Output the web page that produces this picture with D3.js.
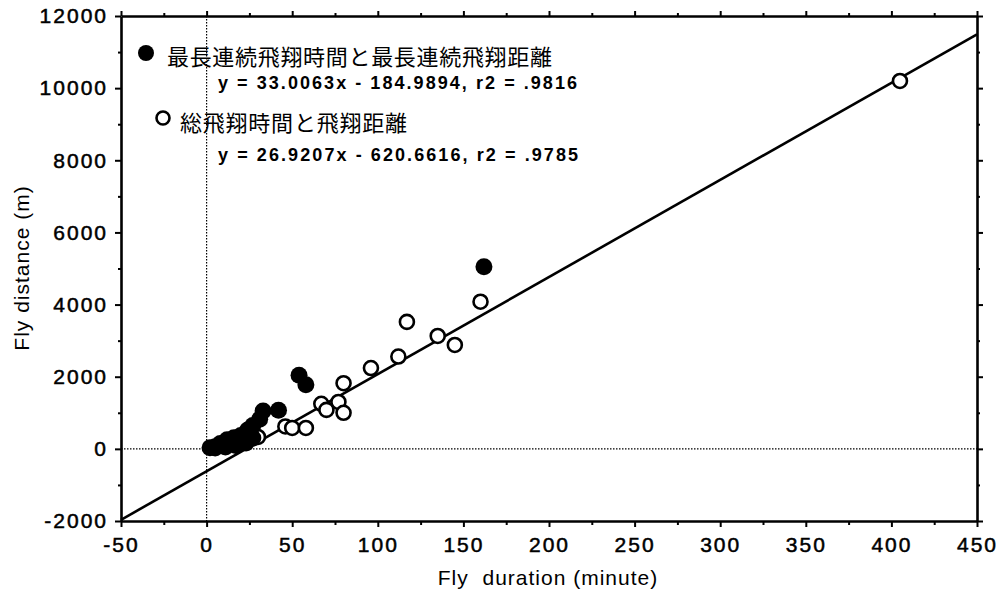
<!DOCTYPE html>
<html><head><meta charset="utf-8">
<script src="https://cdn.jsdelivr.net/npm/d3@7"></script>
<style>
body{margin:0;background:#fff;}
svg{display:block;}
text{fill:#000;}
</style></head>
<body><svg id="c" width="1000" height="602"></svg>
<script>
// Data
const xTicks = [-50,0,50,100,150,200,250,300,350,400,450];
const yTicks = [-2000,0,2000,4000,6000,8000,10000,12000];
const xMinor = [-25,25,75,125,175,225,275,325,375,425];
const yMinor = [-1000,1000,3000,5000,7000,9000,11000];
// longest continuous flight duration (min) vs distance (m)
const filledX = [2,5,8,12,16,20,24,27,31,33,42,54,58,162,11,17,23,27];
const filledY = [30,60,150,250,310,370,520,650,820,1050,1070,2040,1780,5050,50,90,160,300];
// total flight duration vs distance
const openX = [5,10,15,20,25,30,46,50,58,67,70,77,80,80,96,112,117,135,145,160,405];
const openY = [20,80,200,260,300,330,620,580,580,1250,1080,1300,1000,1820,2240,2560,3520,3130,2880,4080,10200];
const fitSlope = 26.9207, fitIntercept = -620.6616;
const legendLabels = ["最長連続飛翔時間と最長連続飛翔距離","総飛翔時間と飛翔距離"];
const legendEqs = ["y = 33.0063x - 184.9894, r2 = .9816","y = 26.9207x - 620.6616, r2 = .9785"];
const xTitle = "Fly\u00a0 duration (minute)";
const yTitle = "Fly distance (m)";

const svg = d3.select("#c");
const x = d3.scaleLinear().domain([-50,450]).range([121,977]);
const y = d3.scaleLinear().domain([-2000,12000]).range([521,16]);
const font = "'Liberation Sans', Arial, sans-serif";
const fmt = d => String(d);

// dotted zero lines
svg.append("line").attr("x1",x(0)).attr("x2",x(0)).attr("y1",y(12000)).attr("y2",y(-2000))
  .attr("stroke","#000").attr("stroke-width",1.2).attr("stroke-dasharray","1.5,1.5");
svg.append("line").attr("x1",x(-50)).attr("x2",x(450)).attr("y1",y(0)).attr("y2",y(0))
  .attr("stroke","#000").attr("stroke-width",1.2).attr("stroke-dasharray","1.5,1.5");

// regression line
svg.append("line")
  .attr("x1",x(-50)).attr("y1",y(fitSlope*-50+fitIntercept))
  .attr("x2",x(450)).attr("y2",y(fitSlope*450+fitIntercept))
  .attr("stroke","#000").attr("stroke-width",2.6);

// axes
function styleAxis(g){
  g.select(".domain").attr("stroke","#000").attr("stroke-width",2.6);
  g.selectAll(".tick line").attr("stroke","#000").attr("stroke-width",2);
  g.selectAll(".tick text").attr("font-family",font).attr("font-size","21px").attr("letter-spacing","2px")
    .attr("stroke","#000").attr("stroke-width",0.5);
}
const gB = svg.append("g").attr("transform",`translate(0,${y(-2000)})`)
  .call(d3.axisBottom(x).tickValues(xTicks).tickSize(6).tickSizeOuter(0).tickPadding(10).tickFormat(fmt));
styleAxis(gB);
gB.selectAll(".tick text").attr("dy","0.71em");
svg.append("g").attr("transform",`translate(0,${y(-2000)})`)
  .call(d3.axisBottom(x).tickValues(xMinor).tickSize(4).tickFormat("")).call(styleAxis).select(".domain").remove();
const gT = svg.append("g").attr("transform",`translate(0,${y(12000)})`)
  .call(d3.axisTop(x).tickValues(xTicks).tickSize(5).tickSizeOuter(0).tickFormat(""));
styleAxis(gT);
svg.append("g").attr("transform",`translate(0,${y(12000)})`)
  .call(d3.axisTop(x).tickValues(xMinor).tickSize(3).tickFormat("")).call(styleAxis).select(".domain").remove();
const gL = svg.append("g").attr("transform",`translate(${x(-50)},0)`)
  .call(d3.axisLeft(y).tickValues(yTicks).tickSize(6).tickSizeOuter(0).tickPadding(7).tickFormat(fmt));
styleAxis(gL);
svg.append("g").attr("transform",`translate(${x(-50)},0)`)
  .call(d3.axisLeft(y).tickValues(yMinor).tickSize(3).tickFormat("")).call(styleAxis).select(".domain").remove();
const gR = svg.append("g").attr("transform",`translate(${x(450)},0)`)
  .call(d3.axisRight(y).tickValues(yTicks).tickSize(6).tickSizeOuter(0).tickFormat(""));
styleAxis(gR);
svg.append("g").attr("transform",`translate(${x(450)},0)`)
  .call(d3.axisRight(y).tickValues(yMinor).tickSize(3).tickFormat("")).call(styleAxis).select(".domain").remove();

// points
const openData = openX.map((v,i)=>[v,openY[i]]);
const filledData = filledX.map((v,i)=>[v,filledY[i]]);
svg.append("g").selectAll("circle").data(openData).join("circle")
  .attr("cx",d=>x(d[0])).attr("cy",d=>y(d[1])).attr("r",7)
  .attr("fill","#fff").attr("stroke","#000").attr("stroke-width",2.6);
svg.append("g").selectAll("circle").data(filledData).join("circle")
  .attr("cx",d=>x(d[0])).attr("cy",d=>y(d[1])).attr("r",8.5)
  .attr("fill","#000");

// legend
svg.append("circle").attr("cx",146).attr("cy",53).attr("r",8).attr("fill","#000");
svg.append("circle").attr("cx",163).attr("cy",118).attr("r",6.5).attr("fill","#fff").attr("stroke","#000").attr("stroke-width",2.6);
const cjk = "'Noto Sans CJK JP', sans-serif";
svg.append("text").attr("x",167).attr("y",57).attr("dy","0.35em").attr("font-family",cjk)
  .attr("font-size","22px").attr("textLength",385).attr("lengthAdjust","spacing").text(legendLabels[0]);
svg.append("text").attr("x",180).attr("y",123).attr("dy","0.35em").attr("font-family",cjk)
  .attr("font-size","22px").attr("textLength",227).attr("lengthAdjust","spacing").text(legendLabels[1]);
svg.append("text").attr("x",218).attr("y",83).attr("dy","0.35em").attr("font-family",font).attr("font-weight","bold")
  .attr("font-size","18px").attr("textLength",359).attr("lengthAdjust","spacing").text(legendEqs[0]);
svg.append("text").attr("x",218).attr("y",155).attr("dy","0.35em").attr("font-family",font).attr("font-weight","bold")
  .attr("font-size","18px").attr("textLength",360).attr("lengthAdjust","spacing").text(legendEqs[1]);

// axis titles
svg.append("text").attr("x",548).attr("y",585).attr("text-anchor","middle").attr("font-family",font)
  .attr("font-size","21px").attr("letter-spacing","1px").text(xTitle);
svg.append("text").attr("transform","translate(29,268) rotate(-90)").attr("text-anchor","middle").attr("font-family",font)
  .attr("font-size","21px").attr("letter-spacing","1px").text(yTitle);
</script></body></html>
